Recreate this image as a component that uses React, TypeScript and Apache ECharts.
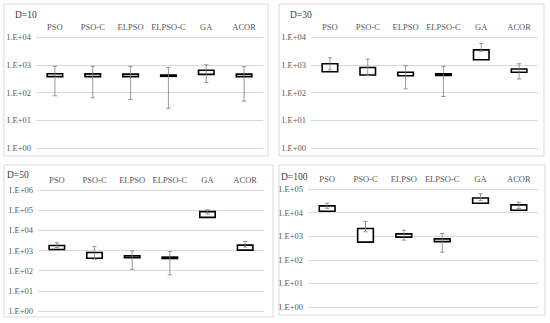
import React, { useEffect, useRef } from "react";
import * as echarts from "echarts";

const categories = ["PSO", "PSO-C", "ELPSO", "ELPSO-C", "GA", "ACOR"];

// D=10
const d10Low = [76, 65, 56, 27, 230, 49];
const d10Q1 = [372, 372, 372, 384, 450, 372];
const d10Q3 = [476, 470, 460, 427, 630, 460];
const d10High = [870, 870, 870, 800, 1000, 850];

// D=30
const d30Low = [660, 405, 135, 72, 3100, 305];
const d30Q1 = [560, 425, 400, 410, 1510, 535];
const d30Q3 = [1090, 800, 535, 470, 3430, 700];
const d30High = [1780, 1590, 920, 870, 5800, 1090];

// D=50
const d50Low = [1400, 370, 117, 62, 65000, 1470];
const d50Q1 = [1120, 415, 435, 400, 44000, 1040];
const d50Q3 = [1770, 800, 540, 470, 85000, 1840];
const d50High = [2400, 1580, 960, 890, 104000, 2800];

// D=100
const d100Low = [15200, 1530, 680, 210, 32000, 15000];
const d100Q1 = [11400, 560, 910, 590, 25000, 12500];
const d100Q3 = [19200, 2120, 1250, 770, 41500, 21200];
const d100High = [25000, 4300, 1800, 1300, 63000, 27700];

const titles = ["D=10", "D=30", "D=50", "D=100"];
const yMaxExp = [4, 4, 6, 5];

const FONT = "Liberation Serif";
const TEXT = "#595959";

export default function App() {
  const ref = useRef<HTMLDivElement>(null);
  useEffect(() => {
    document.body.style.margin = "0";
    const chart = echarts.init(ref.current!, null, { renderer: "svg" });

    const panels = [
      { low: d10Low, q1: d10Q1, q3: d10Q3, high: d10High },
      { low: d30Low, q1: d30Q1, q3: d30Q3, high: d30High },
      { low: d50Low, q1: d50Q1, q3: d50Q3, high: d50High },
      { low: d100Low, q1: d100Q1, q3: d100Q3, high: d100High },
    ];

    const grids = [
      { left: 36, top: 37, width: 227, height: 111 },
      { left: 311, top: 37, width: 227, height: 111 },
      { left: 38, top: 190, width: 226, height: 121 },
      { left: 308, top: 189, width: 230, height: 118 },
    ];

    const borders = [
      [4, 4, 264, 152],
      [279, 4, 265, 152],
      [4, 165, 269, 152],
      [279, 165, 266, 150],
    ];
    const titlePos = [
      [15, 15],
      [290, 15],
      [7, 175],
      [281, 177],
    ];

    const renderItem = (params: any, api: any) => {
      const x = api.value(0);
      const low = api.value(1);
      const q1 = api.value(2);
      const q3 = api.value(3);
      const high = api.value(4);
      const pLow = api.coord([x, low]);
      const pHigh = api.coord([x, high]);
      const pQ1 = api.coord([x, q1]);
      const pQ3 = api.coord([x, q3]);
      const band = api.coord([1, q1])[0] - api.coord([0, q1])[0];
      const bw = band * 0.41;
      const cx = pQ1[0];
      const cap = 2.2;
      return {
        type: "group",
        children: [
          {
            type: "rect",
            shape: { x: cx - bw / 2, y: pQ3[1], width: bw, height: Math.max(pQ1[1] - pQ3[1], 1) },
            style: { fill: "#ffffff", stroke: "#000000", lineWidth: 1.6 },
          },
          {
            type: "line",
            shape: { x1: cx, y1: pLow[1], x2: cx, y2: pHigh[1] },
            style: { stroke: "#7f7f7f", lineWidth: 0.8 },
          },
          {
            type: "line",
            shape: { x1: cx - cap, y1: pLow[1], x2: cx + cap, y2: pLow[1] },
            style: { stroke: "#7f7f7f", lineWidth: 0.8 },
          },
          {
            type: "line",
            shape: { x1: cx - cap, y1: pHigh[1], x2: cx + cap, y2: pHigh[1] },
            style: { stroke: "#7f7f7f", lineWidth: 0.8 },
          },
        ],
      };
    };

    const option: any = {
      animation: false,
      grid: grids.map((g) => ({ ...g, containLabel: false })),
      xAxis: grids.map((_, i) => ({
        type: "category",
        gridIndex: i,
        data: categories,
        position: "top",
        axisLine: { show: false },
        axisTick: { show: false },
        axisLabel: { interval: 0, fontFamily: FONT, fontSize: 8.5, color: TEXT, margin: 6 },
      })),
      yAxis: grids.map((_, i) => ({
        type: "log",
        gridIndex: i,
        logBase: 10,
        min: 1,
        max: Math.pow(10, yMaxExp[i]),
        interval: 1,
        splitNumber: yMaxExp[i],
        axisLine: { show: false },
        axisTick: { show: false },
        splitLine: { lineStyle: { color: "#d9d9d9", width: 1 } },
        axisLabel: {
          fontFamily: FONT,
          fontSize: 8.5,
          color: TEXT,
          margin: 5,
          formatter: (v: number) => {
            const e = Math.round(Math.log10(v));
            return "1.E+" + String(e).padStart(2, "0");
          },
        },
      })),
      series: panels.map((p, i) => ({
        type: "custom",
        xAxisIndex: i,
        yAxisIndex: i,
        renderItem,
        encode: { x: 0, y: [1, 2, 3, 4] },
        data: categories.map((_, k) => [k, p.low[k], p.q1[k], p.q3[k], p.high[k]]),
      })),
      graphic: [
        ...borders.map((b) => ({
          type: "rect",
          shape: { x: b[0], y: b[1], width: b[2], height: b[3] },
          style: { fill: "none", stroke: "#d9d9d9", lineWidth: 1 },
          silent: true,
        })),
        ...titles.map((t, i) => ({
          type: "text",
          x: titlePos[i][0],
          y: titlePos[i][1],
          style: {
            text: t,
            font: `9.5px "${FONT}"`,
            fill: "#404040",
            verticalAlign: "middle",
          },
        })),
      ],
    };
    chart.setOption(option);
    return () => chart.dispose();
  }, []);
  return <div ref={ref} style={{ width: 550, height: 323, background: "#fff" }} />;
}
